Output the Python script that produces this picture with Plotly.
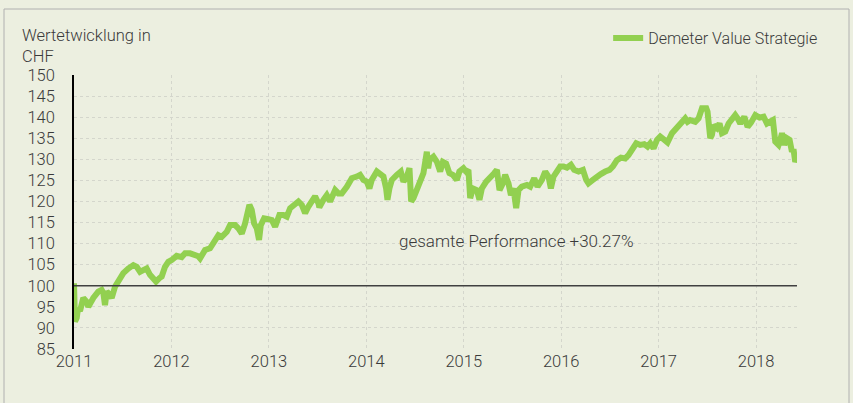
import plotly.graph_objects as go

# time as fractional years, values in CHF
years = [
    2011.000, 2011.010, 2011.028, 2011.041, 2011.062, 2011.095, 2011.130, 2011.147, 2011.198, 2011.249,
    2011.284, 2011.301, 2011.318, 2011.336, 2011.370, 2011.387, 2011.421, 2011.455, 2011.506, 2011.557,
    2011.609, 2011.644, 2011.678, 2011.711, 2011.746, 2011.780, 2011.814, 2011.842, 2011.876, 2011.900,
    2011.934, 2011.968, 2012.003, 2012.054, 2012.105, 2012.140, 2012.191, 2012.242, 2012.276, 2012.294,
    2012.345, 2012.396, 2012.448, 2012.482, 2012.516, 2012.568, 2012.602, 2012.653, 2012.687, 2012.722,
    2012.756, 2012.779, 2012.800, 2012.824, 2012.848, 2012.876, 2012.899, 2012.917, 2012.951, 2012.995,
    2013.030, 2013.064, 2013.108, 2013.149, 2013.184, 2013.218, 2013.269, 2013.303, 2013.338, 2013.372,
    2013.406, 2013.440, 2013.474, 2013.508, 2013.518, 2013.560, 2013.594, 2013.628, 2013.680, 2013.714,
    2013.748, 2013.800, 2013.851, 2013.902, 2013.936, 2013.970, 2014.005, 2014.032, 2014.056, 2014.108,
    2014.142, 2014.176, 2014.203, 2014.217, 2014.237, 2014.262, 2014.313, 2014.354, 2014.381, 2014.416,
    2014.443, 2014.460, 2014.484, 2014.518, 2014.552, 2014.586, 2014.621, 2014.635, 2014.648, 2014.689,
    2014.724, 2014.758, 2014.786, 2014.819, 2014.853, 2014.888, 2014.929, 2014.955, 2014.997, 2015.025,
    2015.048, 2015.066, 2015.093, 2015.134, 2015.161, 2015.186, 2015.230, 2015.271, 2015.312, 2015.340,
    2015.367, 2015.401, 2015.425, 2015.459, 2015.484, 2015.510, 2015.538, 2015.562, 2015.596, 2015.648,
    2015.682, 2015.723, 2015.757, 2015.802, 2015.836, 2015.870, 2015.894, 2015.921, 2015.956, 2015.990,
    2016.024, 2016.059, 2016.100, 2016.133, 2016.178, 2016.223, 2016.257, 2016.280, 2016.325, 2016.366,
    2016.407, 2016.452, 2016.496, 2016.531, 2016.572, 2016.613, 2016.657, 2016.691, 2016.726, 2016.770,
    2016.811, 2016.852, 2016.886, 2016.914, 2016.948, 2016.983, 2017.016, 2017.050, 2017.091, 2017.137,
    2017.188, 2017.239, 2017.273, 2017.297, 2017.324, 2017.376, 2017.410, 2017.445, 2017.489, 2017.502,
    2017.530, 2017.547, 2017.564, 2017.598, 2017.625, 2017.650, 2017.684, 2017.718, 2017.753, 2017.786,
    2017.810, 2017.838, 2017.879, 2017.913, 2017.948, 2017.992, 2018.036, 2018.077, 2018.112, 2018.146,
    2018.173, 2018.197, 2018.231, 2018.248, 2018.266, 2018.290, 2018.317, 2018.344, 2018.368, 2018.384,
    2018.402, 2018.420,
]
values = [
    100.6, 91.5, 92.4, 94.7, 94.0, 97.1, 96.2, 95.0, 97.1, 98.6,
    99.0, 98.3, 95.4, 98.6, 97.8, 97.1, 99.8, 101.4, 103.0, 104.1,
    104.9, 104.5, 103.3, 103.7, 104.1, 102.6, 101.4, 101.0, 101.8, 102.2,
    104.5, 105.7, 106.1, 107.1, 106.8, 107.7, 107.7, 107.3, 107.0, 106.5,
    108.5, 108.9, 110.9, 112.0, 111.6, 112.8, 114.4, 114.4, 113.6, 112.4,
    114.8, 117.2, 119.2, 118.0, 114.8, 113.6, 110.9, 114.4, 116.0, 115.8,
    115.6, 114.0, 116.8, 116.8, 116.4, 118.4, 119.2, 120.0, 119.2, 117.2,
    118.8, 120.0, 121.2, 119.6, 118.6, 120.4, 121.5, 120.0, 122.7, 121.9,
    121.9, 123.5, 125.5, 125.9, 126.3, 125.1, 124.7, 123.1, 125.1, 127.1,
    126.7, 125.9, 123.1, 120.4, 123.1, 125.1, 126.3, 127.1, 124.7, 125.9,
    127.9, 120.0, 120.8, 123.1, 125.1, 126.7, 131.8, 127.9, 129.8, 130.6,
    129.4, 127.1, 129.4, 129.0, 126.7, 126.3, 125.1, 127.1, 127.9, 127.1,
    127.5, 120.8, 123.1, 122.7, 120.4, 123.1, 124.7, 125.5, 126.7, 127.5,
    122.7, 124.3, 126.3, 124.3, 121.5, 123.1, 118.4, 122.7, 123.5, 123.9,
    123.5, 125.5, 123.5, 125.1, 127.1, 125.9, 123.1, 125.9, 127.1, 128.3,
    128.3, 128.0, 128.7, 127.5, 127.1, 127.5, 125.1, 124.3, 125.1, 125.9,
    126.5, 127.1, 127.5, 128.3, 129.8, 130.4, 130.2, 131.0, 132.2, 133.8,
    133.4, 133.6, 133.0, 133.8, 132.6, 134.6, 135.4, 134.6, 134.0, 136.2,
    137.4, 138.5, 139.7, 138.9, 139.3, 138.9, 139.7, 142.1, 142.1, 141.3,
    135.0, 135.8, 138.1, 137.4, 138.5, 136.2, 136.6, 138.5, 139.3, 140.5,
    139.7, 138.5, 140.1, 137.7, 138.7, 140.5, 139.9, 140.1, 138.5, 138.9,
    139.3, 134.2, 133.4, 134.6, 136.2, 133.4, 135.0, 134.6, 131.8, 132.4,
    129.4, 130.2,
]
series_name = "Demeter Value Strategie"
x_ticks = [2011, 2012, 2013, 2014, 2015, 2016, 2017, 2018]
y_ticks = [85, 90, 95, 100, 105, 110, 115, 120, 125, 130, 135, 140, 145, 150]
baseline = 100
axis_title = "Wertetwicklung in<br>CHF"
note = "gesamte Performance +30.27%"

FONT = "Roboto"
W = 300
TXT = "#3A3A3A"
GREEN = "#92D050"
BG = "#ECEFE0"

fig = go.Figure()
fig.add_trace(go.Scatter(
    x=years, y=values, mode="lines", name=series_name,
    line=dict(color=GREEN, width=6),
))

fig.add_shape(type="line", xref="paper", yref="y", x0=0, x1=1, y0=baseline, y1=baseline,
              line=dict(color="#404040", width=1.3), layer="above")

fig.update_layout(
    width=853, height=403,
    margin=dict(l=74, r=56, t=75, b=54, autoexpand=False),
    paper_bgcolor=BG, plot_bgcolor=BG,
    font=dict(family=FONT, color=TXT, size=16, weight=W),
    showlegend=True,
    legend=dict(x=0.965, y=1 - 38/403, xref="container", yref="container", xanchor="right",
                yanchor="middle", bgcolor="rgba(0,0,0,0)",
                font=dict(size=16, color=TXT, family=FONT, weight=W), orientation="h"),
    xaxis=dict(range=[2011, 2018.42], tickvals=x_ticks, ticktext=[str(v) for v in x_ticks],
               showgrid=True, gridcolor="#D4D6CC", griddash="dot", gridwidth=1,
               zeroline=False, showline=False, ticks="",
               tickfont=dict(size=16.5, color=TXT, family=FONT, weight=W)),
    yaxis=dict(range=[85, 150], tickvals=y_ticks, showgrid=True, gridcolor="#D4D6CC",
               griddash="dot", gridwidth=1, zeroline=False, showline=True, linecolor="#000000",
               linewidth=1.5, ticks="", ticklabelstandoff=14,
               tickfont=dict(size=16.5, color=TXT, family=FONT, weight=W)),
    annotations=[
        dict(text=axis_title, xref="paper", yref="paper", x=-0.075, y=1.0, yshift=51,
             xanchor="left", yanchor="top", showarrow=False, align="left",
             font=dict(size=16.5, color=TXT, family=FONT, weight=W)),
        dict(text=note, xref="x", yref="y", x=2015.54, y=110.6, xanchor="center", yanchor="middle",
             showarrow=False, font=dict(size=17, color=TXT, family=FONT, weight=W)),
    ],
)

# outer frame
fig.add_shape(type="rect", xref="paper", yref="paper",
              x0=-70/723, x1=(849-74)/723, y0=-60/274, y1=(349-9)/274,
              line=dict(color="#B0B0B0", width=1), layer="below")

fig.write_html("out.html")
